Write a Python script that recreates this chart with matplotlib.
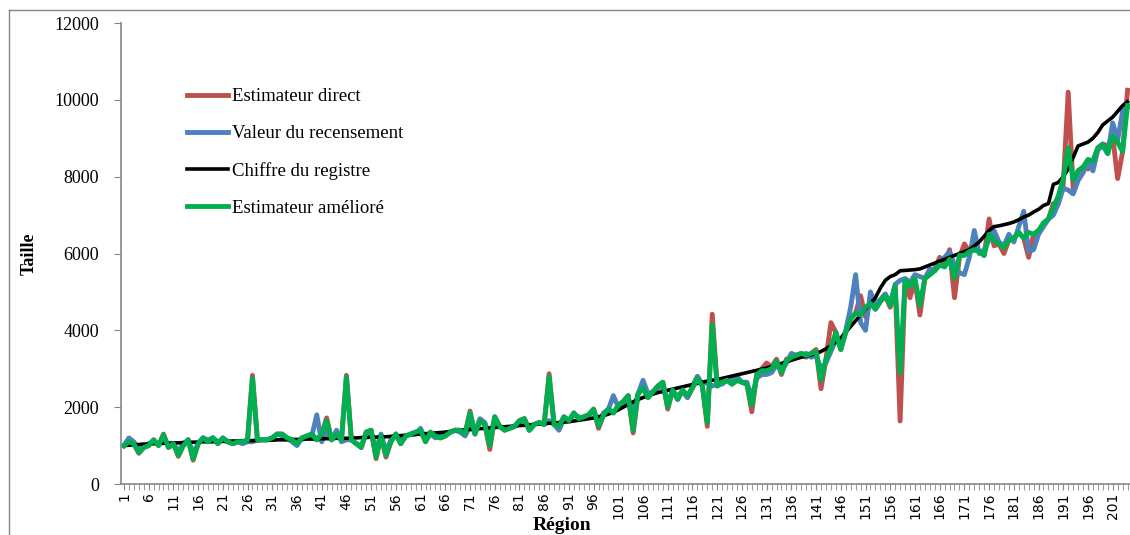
import matplotlib.pyplot as plt
import numpy as np
from matplotlib.lines import Line2D

# Taille par région : registre, recensement, estimateur direct et amélioré
registre = [
    1000, 1010, 1020, 1030, 1040, 1040, 1050, 1050, 1060, 1060,
    1070, 1070, 1080, 1080, 1090, 1090, 1100, 1100, 1100, 1110,
    1110, 1110, 1120, 1120, 1120, 1130, 1130, 1130, 1140, 1140,
    1140, 1150, 1150, 1150, 1160, 1160, 1160, 1170, 1170, 1170,
    1180, 1180, 1180, 1190, 1190, 1190, 1200, 1200, 1210, 1210,
    1220, 1220, 1230, 1230, 1240, 1250, 1260, 1270, 1280, 1290,
    1300, 1310, 1320, 1330, 1340, 1350, 1370, 1390, 1400, 1410,
    1420, 1430, 1440, 1450, 1460, 1470, 1480, 1490, 1500, 1510,
    1520, 1530, 1540, 1550, 1560, 1570, 1580, 1590, 1600, 1610,
    1620, 1640, 1660, 1680, 1700, 1720, 1750, 1780, 1820, 1870,
    1930, 2000, 2070, 2140, 2200, 2250, 2300, 2340, 2380, 2410,
    2440, 2470, 2500, 2530, 2560, 2590, 2620, 2650, 2680, 2700,
    2720, 2750, 2780, 2810, 2840, 2870, 2900, 2930, 2960, 2990,
    3020, 3060, 3100, 3140, 3180, 3220, 3260, 3300, 3330, 3360,
    3400, 3450, 3520, 3600, 3700, 3800, 3950, 4100, 4250, 4400,
    4550, 4700, 4850, 5100, 5300, 5400, 5450, 5550, 5560, 5570,
    5580, 5600, 5650, 5700, 5750, 5800, 5850, 5900, 5950, 6000,
    6050, 6100, 6200, 6300, 6450, 6600, 6700, 6720, 6750, 6780,
    6820, 6880, 6950, 7000, 7080, 7150, 7250, 7300, 7800, 7850,
    8000, 8200, 8500, 8800, 8850, 8900, 9000, 9150, 9350, 9450,
    9550, 9700, 9850, 9950,
]

ameliore = [
    1000, 1100, 1050, 820, 950, 1000, 1150, 1000, 1280, 950,
    1050, 750, 1000, 1150, 650, 1050, 1200, 1100, 1200, 1050,
    1200, 1100, 1050, 1100, 1100, 1150, 2750, 1150, 1150, 1150,
    1200, 1300, 1300, 1200, 1150, 1050, 1200, 1250, 1300, 1150,
    1300, 1650, 1150, 1300, 1150, 2780, 1150, 1050, 950, 1350,
    1400, 700, 1250, 750, 1100, 1300, 1050, 1250, 1300, 1350,
    1400, 1100, 1350, 1250, 1200, 1250, 1350, 1400, 1400, 1300,
    1850, 1300, 1650, 1550, 1000, 1750, 1500, 1400, 1450, 1500,
    1650, 1700, 1400, 1550, 1600, 1550, 2800, 1550, 1500, 1750,
    1650, 1850, 1700, 1750, 1800, 1950, 1500, 1800, 1950, 1850,
    2050, 2150, 2300, 1400, 2350, 2500, 2250, 2400, 2550, 2650,
    2000, 2450, 2200, 2450, 2300, 2500, 2750, 2550, 1600, 4150,
    2550, 2650, 2700, 2600, 2700, 2650, 2600, 2050, 2850, 2950,
    2950, 3000, 3200, 2900, 3200, 3300, 3350, 3400, 3350, 3400,
    3450, 2700, 3250, 3550, 3950, 3500, 3950, 4300, 4450, 4400,
    4600, 4700, 4550, 4750, 4900, 4650, 5150, 2900, 5300, 5150,
    5350, 4650, 5350, 5450, 5550, 5700, 5650, 5850, 5350, 5950,
    5950, 6050, 6100, 6050, 5950, 6500, 6350, 6250, 6150, 6350,
    6400, 6550, 6400, 6550, 6500, 6600, 6800, 6900, 7200, 7500,
    7950, 8750, 7900, 8150, 8250, 8450, 8400, 8750, 8850, 8600,
    9050, 8900, 8650, 9850,
]

direct = [
    1000, 1100, 1050, 800, 950, 1000, 1150, 1000, 1300, 950,
    1050, 720, 1000, 1150, 620, 1050, 1200, 1100, 1200, 1050,
    1200, 1100, 1050, 1100, 1100, 1150, 2830, 1150, 1150, 1150,
    1200, 1300, 1300, 1200, 1150, 1050, 1200, 1250, 1300, 1150,
    1300, 1720, 1150, 1300, 1150, 2830, 1150, 1050, 950, 1350,
    1400, 660, 1250, 700, 1100, 1300, 1050, 1250, 1300, 1350,
    1400, 1100, 1350, 1250, 1200, 1250, 1350, 1400, 1400, 1300,
    1900, 1300, 1650, 1550, 900, 1750, 1500, 1400, 1450, 1500,
    1650, 1700, 1400, 1550, 1600, 1550, 2870, 1550, 1500, 1750,
    1650, 1850, 1700, 1750, 1800, 1950, 1450, 1800, 1950, 1850,
    2050, 2150, 2300, 1330, 2350, 2500, 2250, 2400, 2550, 2650,
    1950, 2450, 2200, 2450, 2250, 2500, 2800, 2550, 1500, 4420,
    2550, 2650, 2700, 2600, 2700, 2650, 2600, 1880, 2850, 3000,
    3150, 3050, 3250, 2850, 3250, 3300, 3350, 3400, 3300, 3400,
    3500, 2480, 3250, 4200, 3950, 3500, 3950, 4300, 4450, 4900,
    4350, 4750, 4550, 4750, 4900, 4600, 5150, 1640, 5300, 4850,
    5300, 4400, 5350, 5450, 5600, 5900, 5700, 6100, 4850, 5900,
    6250, 6050, 6100, 6050, 5950, 6900, 6200, 6250, 6000, 6350,
    6400, 6550, 6400, 5900, 6500, 6600, 6750, 6900, 7300, 7300,
    7800, 10200, 7700, 8150, 8250, 8200, 8400, 8750, 8850, 8800,
    9050, 7950, 8650, 10250,
]

recensement = [
    1000, 1200, 1100, 900, 950, 1050, 1100, 1050, 1200, 1000,
    1050, 850, 1050, 1150, 800, 1050, 1200, 1150, 1200, 1100,
    1150, 1100, 1050, 1100, 1050, 1100, 1100, 1150, 1150, 1150,
    1200, 1300, 1250, 1200, 1100, 1000, 1200, 1200, 1250, 1800,
    1100, 1400, 1150, 1400, 1100, 1150, 1150, 1050, 1000, 1300,
    1350, 900, 1300, 850, 1150, 1300, 1100, 1250, 1300, 1300,
    1450, 1150, 1300, 1200, 1250, 1300, 1350, 1400, 1350, 1250,
    1500, 1350, 1700, 1600, 1200, 1700, 1500, 1450, 1450, 1500,
    1600, 1700, 1400, 1550, 1600, 1550, 1650, 1550, 1400, 1700,
    1650, 1800, 1750, 1700, 1800, 1900, 1600, 1850, 1950, 2300,
    2000, 2050, 2200, 1900, 2350, 2700, 2350, 2400, 2500, 2550,
    2150, 2400, 2300, 2400, 2250, 2550, 2800, 2600, 2650, 2550,
    2600, 2600, 2700, 2700, 2800, 2650, 2650, 2250, 2750, 2850,
    2850, 2900, 3100, 2950, 3150, 3400, 3350, 3350, 3400, 3300,
    3350, 3000, 3150, 3450, 3750, 3600, 4000, 4600, 5450, 4200,
    4000, 5000, 4700, 4800, 4950, 4700, 5200, 5300, 5350, 5250,
    5450, 5400, 5350, 5600, 5550, 5800, 5900, 6050, 5700, 5500,
    5450, 5900, 6600, 6000, 6100, 6350, 6600, 6300, 6200, 6500,
    6300, 6700, 7100, 6050, 6100, 6500, 6700, 6900, 7000, 7300,
    7700, 7650, 7550, 7900, 8100, 8400, 8150, 8700, 8800, 8600,
    9400, 8950, 9700, 9800,
]

regions = np.arange(1, len(registre) + 1)

rouge = '#C0504D'
bleu = '#4F81BD'
vert = '#00B050'
gris = '#868686'
serif = 'Liberation Serif'

fig = plt.figure(figsize=(11.3, 5.35), dpi=100)
ax = fig.add_axes([0.1075, 0.0953, 0.8925, 0.8617])

ax.plot(regions, direct, color=rouge, lw=3.5, label='Estimateur direct', solid_joinstyle='round')
ax.plot(regions, recensement, color=bleu, lw=3.5, label='Valeur du recensement', solid_joinstyle='round')
ax.plot(regions, registre, color='black', lw=2.6, label='Chiffre du registre', solid_joinstyle='round')
ax.plot(regions, ameliore, color=vert, lw=3.5, label='Estimateur amélioré', solid_joinstyle='round')

ax.set_xlim(0.5, 204.5)
ax.set_ylim(0, 12000)
ax.set_yticks(np.arange(0, 12001, 2000))
ax.set_xticks(regions[::5])
ax.set_xticks(regions, minor=True)
ax.set_xticklabels([str(r) for r in regions[::5]], rotation=90,
                   fontsize=10, family='Liberation Sans Narrow')
for lab in ax.get_yticklabels():
    lab.set_family(serif)
    lab.set_fontsize(13)
ax.tick_params(axis='y', length=5, color=gris, pad=11)
ax.tick_params(axis='x', which='both', length=4, color=gris, pad=2)

for side in ['top', 'right']:
    ax.spines[side].set_visible(False)
for side in ['left', 'bottom']:
    ax.spines[side].set_color(gris)
    ax.spines[side].set_linewidth(1.2)

ax.set_ylabel('Taille', family=serif, fontweight='bold', fontsize=13)
ax.yaxis.set_label_coords(-0.083, 0.5)
fig.text(0.497, 0.001, 'Région', family=serif, fontweight='bold', fontsize=14,
         ha='center', va='bottom')

ax.legend(loc='upper left', bbox_to_anchor=(0.1655, 0.835), bbox_transform=fig.transFigure,
          frameon=False, prop={'family': serif, 'size': 13.5}, handlelength=2.2,
          handletextpad=0.2, labelspacing=1.05, borderpad=0, borderaxespad=0)

# cadre extérieur
fig.add_artist(Line2D([0.008, 0.008], [0.0, 0.981], transform=fig.transFigure, color=gris, lw=1))
fig.add_artist(Line2D([0.008, 1.0], [0.981, 0.981], transform=fig.transFigure, color=gris, lw=1))

fig.savefig('out.png', dpi=100)
